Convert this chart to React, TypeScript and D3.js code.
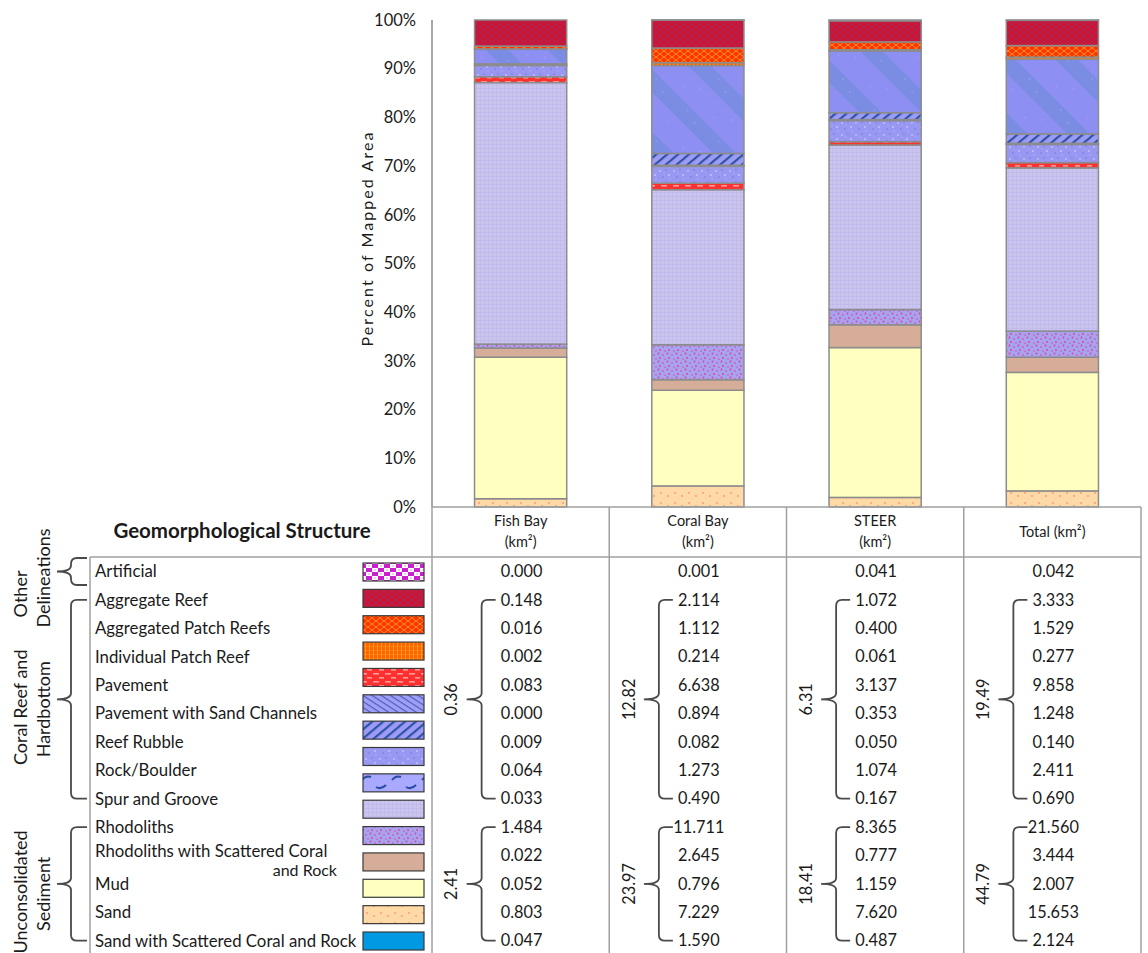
import React from "react";
import * as d3 from "d3";

// ---------------- DATA ----------------
const sites = ["Fish Bay", "Coral Bay", "STEER", "Total"];
const siteHeaderLines = [["Fish Bay", "(km²)"], ["Coral Bay", "(km²)"], ["STEER", "(km²)"], ["Total (km²)"]];

const structures = [
  "Artificial",
  "Aggregate Reef",
  "Aggregated Patch Reefs",
  "Individual Patch Reef",
  "Pavement",
  "Pavement with Sand Channels",
  "Reef Rubble",
  "Rock/Boulder",
  "Spur and Groove",
  "Rhodoliths",
  "Rhodoliths with Scattered Coral and Rock",
  "Mud",
  "Sand",
  "Sand with Scattered Coral and Rock",
];

const fishBay = [0.0, 0.148, 0.016, 0.002, 0.083, 0.0, 0.009, 0.064, 0.033, 1.484, 0.022, 0.052, 0.803, 0.047];
const coralBay = [0.001, 2.114, 1.112, 0.214, 6.638, 0.894, 0.082, 1.273, 0.49, 11.711, 2.645, 0.796, 7.229, 1.59];
const steer = [0.041, 1.072, 0.4, 0.061, 3.137, 0.353, 0.05, 1.074, 0.167, 8.365, 0.777, 1.159, 7.62, 0.487];
const total = [0.042, 3.333, 1.529, 0.277, 9.858, 1.248, 0.14, 2.411, 0.69, 21.56, 3.444, 2.007, 15.653, 2.124];

const groupNames = [["Other", "Delineations"], ["Coral Reef and", "Hardbottom"], ["Unconsolidated", "Sediment"]];
const groupFirst = [0, 1, 9];
const groupLast = [0, 8, 13];

// group subtotals (Coral Reef & Hardbottom, Unconsolidated Sediment)
const fishBayGroupTotals = [0.36, 2.41];
const coralBayGroupTotals = [12.82, 23.97];
const steerGroupTotals = [6.31, 18.41];
const totalGroupTotals = [19.49, 44.79];

const yTicks = [0, 0.1, 0.2, 0.3, 0.4, 0.5, 0.6, 0.7, 0.8, 0.9, 1.0];

// ---------------- STYLE ----------------
const siteValues = [fishBay, coralBay, steer, total];
const siteGroupTotals = [fishBayGroupTotals, coralBayGroupTotals, steerGroupTotals, totalGroupTotals];

// fill used for each structure inside the bars
const barFill = [
  "artificial", "aggReef", "aggPatch", "indiv", "broadDiag", "hatch", "speckle",
  "speckle", "pavement", "lavGrid", "rhod", "tan", "yellow", "sand",
];
// legend swatch column (15 swatches as in the source)
const swatchFill = [
  "artificial", "aggReef", "aggPatch", "indiv", "pavement", "thinDiag", "hatch", "speckle",
  "curves", "lavGrid", "rhod", "tan", "yellow", "sand", "blue",
];

const FONT = "Lato, 'Liberation Sans', Arial, sans-serif";
const TXT = "#1a1a1a";
const GRID = "#a0a0a0";

const W = 1148;
const H = 953;
const plotTop = 20;
const plotBottom = 507;
const tableLeft = 432;
const tableRight = 1141;
const legendLeft = 90;
const headerBottom = 557;

function Patterns() {
  return (
    <defs>
      <pattern id="artificial" width="12" height="8" patternUnits="userSpaceOnUse">
        <rect width="12" height="8" fill="#cc1fd0" />
        <rect x="0" y="0" width="6" height="4" fill="#ffffff" />
        <rect x="6" y="4" width="6" height="4" fill="#ffffff" />
        <rect x="2" y="1.5" width="2" height="1" fill="#e59ae8" />
        <rect x="8" y="5.5" width="2" height="1" fill="#e59ae8" />
      </pattern>
      <pattern id="aggReef" width="8" height="6" patternUnits="userSpaceOnUse">
        <rect width="8" height="6" fill="#d2122e" />
        <path d="M0,3 L4,0 L8,3 L4,6 Z" fill="none" stroke="#9a2d66" strokeWidth="0.9" />
      </pattern>
      <pattern id="aggPatch" width="8" height="6" patternUnits="userSpaceOnUse">
        <rect width="8" height="6" fill="#ff3300" />
        <path d="M0,3 L4,0 L8,3 L4,6 Z" fill="none" stroke="#ff9a1a" strokeWidth="0.9" />
      </pattern>
      <pattern id="indiv" width="4" height="4" patternUnits="userSpaceOnUse">
        <rect width="4" height="4" fill="#ff6200" />
        <rect x="1" y="0" width="1" height="4" fill="#ffa21a" />
        <rect x="0" y="2" width="4" height="0.8" fill="#ff8a10" />
      </pattern>
      <pattern id="pavement" width="12" height="8" patternUnits="userSpaceOnUse">
        <rect width="12" height="8" fill="#ff3030" />
        <rect x="1" y="1" width="6" height="1.6" fill="#ff9a9a" />
        <rect x="7" y="5" width="6" height="1.6" fill="#ff9a9a" />
      </pattern>
      <pattern id="thinDiag" width="5" height="5" patternUnits="userSpaceOnUse" patternTransform="rotate(33)">
        <rect width="5" height="5" fill="#a0a0f4" />
        <rect x="0" y="0" width="5" height="1.2" fill="#4a5ec0" />
      </pattern>
      <pattern id="hatch" width="7" height="7" patternUnits="userSpaceOnUse" patternTransform="rotate(-40)">
        <rect width="7" height="7" fill="#9c9cf4" />
        <rect x="0" y="0" width="7" height="2.2" fill="#2f52a8" />
      </pattern>
      <pattern id="speckle" width="14" height="12" patternUnits="userSpaceOnUse">
        <rect width="14" height="12" fill="#9898f2" />
        <circle cx="2" cy="3" r="1" fill="#bfbfff" />
        <circle cx="8" cy="2" r="0.8" fill="#7676d8" />
        <circle cx="11" cy="7" r="1.1" fill="#bfbfff" />
        <circle cx="5" cy="9" r="0.8" fill="#7676d8" />
        <circle cx="12" cy="11" r="0.7" fill="#b0b0ff" />
        <circle cx="6" cy="5" r="0.6" fill="#b6b6ff" />
      </pattern>
      <pattern id="curves" width="30" height="18" patternUnits="userSpaceOnUse">
        <rect width="30" height="18" fill="#a9a9ff" />
        <path d="M2,6 Q6,1 11,3" fill="none" stroke="#2a4aa6" strokeWidth="2" />
        <path d="M16,13 Q21,16 26,11" fill="none" stroke="#2a4aa6" strokeWidth="2" />
      </pattern>
      <pattern id="lavGrid" width="4" height="4" patternUnits="userSpaceOnUse">
        <rect width="4" height="4" fill="#c9c5ec" />
        <rect x="0" y="0" width="4" height="0.6" fill="#bcb6ee" />
        <rect x="0" y="0" width="0.6" height="4" fill="#bcb6ee" />
      </pattern>
      <pattern id="rhod" width="9" height="8" patternUnits="userSpaceOnUse">
        <rect width="9" height="8" fill="#a6a2f4" />
        <circle cx="1.5" cy="1.5" r="0.9" fill="#ea3f78" />
        <circle cx="6" cy="3" r="0.8" fill="#ea3f78" />
        <circle cx="3" cy="6" r="0.9" fill="#ea3f78" />
        <circle cx="8" cy="7" r="0.7" fill="#ea3f78" />
      </pattern>
      <pattern id="tan" width="4" height="4" patternUnits="userSpaceOnUse">
        <rect width="4" height="4" fill="#d6ad98" />
      </pattern>
      <pattern id="yellow" width="4" height="4" patternUnits="userSpaceOnUse">
        <rect width="4" height="4" fill="#ffffc0" />
      </pattern>
      <pattern id="sand" width="14" height="10" patternUnits="userSpaceOnUse">
        <rect width="14" height="10" fill="#ffdaa6" />
        <circle cx="3" cy="3" r="0.9" fill="#ff9474" />
        <circle cx="10" cy="6" r="0.9" fill="#ff9474" />
        <circle cx="6" cy="8" r="0.6" fill="#ffb890" />
      </pattern>
      <pattern id="blue" width="4" height="4" patternUnits="userSpaceOnUse">
        <rect width="4" height="4" fill="#0099e2" />
      </pattern>
      <pattern id="broadDiag" width="44" height="44" patternUnits="userSpaceOnUse" patternTransform="rotate(-45)">
        <rect width="44" height="44" fill="#8e8ff2" />
        <rect x="0" y="0" width="16" height="44" fill="#7a8de2" />
        <circle cx="8" cy="6" r="0.8" fill="#a2a4f8" />
        <circle cx="26" cy="16" r="0.8" fill="#a2a4f8" />
        <circle cx="36" cy="30" r="0.8" fill="#a2a4f8" />
        <circle cx="12" cy="36" r="0.8" fill="#a2a4f8" />
      </pattern>
    </defs>
  );
}

function bracePath(vx: number, hx: number, tx: number, top: number, bot: number, mid: number) {
  const r = Math.min(6, (bot - top) / 4);
  return [
    `M${hx},${top}`,
    `L${vx + r},${top}`,
    `Q${vx},${top} ${vx},${top + r}`,
    `L${vx},${mid - r}`,
    `Q${vx},${mid} ${tx},${mid}`,
    `Q${vx},${mid} ${vx},${mid + r}`,
    `L${vx},${bot - r}`,
    `Q${vx},${bot} ${vx + r},${bot}`,
    `L${hx},${bot}`,
  ].join(" ");
}

export default function App() {
  const y = d3.scaleLinear().domain([0, 1]).range([plotBottom, plotTop]);
  const x = d3.scaleBand<string>().domain(sites).range([tableLeft, tableRight]).paddingInner(0.48).paddingOuter(0.24);
  const col = d3.scaleBand<string>().domain(sites).range([tableLeft, tableRight]);
  const rowY = d3.scaleLinear().domain([0, structures.length - 1]).range([571.5, 940.7]);
  const swatchY = d3.scaleLinear().domain([0, swatchFill.length - 1]).range([563, 932]);
  const fmt = d3.format(".3f");
  const pct = d3.format(".0%");

  const rows = sites.map((s, i) => {
    const vals = siteValues[i];
    const sum = d3.sum(vals);
    const o: any = { site: s };
    vals.forEach((v, k) => (o[k] = v / sum));
    return o;
  });
  const keys = structures.map((_, k) => k).reverse(); // bottom = last structure
  const stacked = d3.stack<any, number>().keys(keys)(rows);

  const legendLabelX = 95;
  const swX = 363;
  const swW = 61;
  const swH = 18;
  const labelSize = 16.8;

  return (
    <svg width={W} height={H} style={{ position: "absolute", left: 0, top: 0, background: "#fff" }} fontFamily={FONT}>
      <Patterns />
      {/* Y axis */}
      <line x1={tableLeft} x2={tableLeft} y1={plotTop} y2={plotBottom} stroke="#8a8a8a" strokeWidth={1.5} />
      {yTicks.map((t) => (
        <text key={t} x={416} y={y(t)} dy="0.35em" textAnchor="end" fontSize={16.5} fill={TXT}>
          {pct(t)}
        </text>
      ))}
      <text
        transform={`translate(367,${(plotTop + plotBottom) / 2 - 24}) rotate(-90)`}
        textAnchor="middle"
        dy="0.35em"
        fontSize={16}
        textLength={214}
        lengthAdjust="spacing"
        fill={TXT}
      >
        Percent of Mapped Area
      </text>

      {/* Bars */}
      {stacked.map((layer) =>
        layer.map((d, j) => {
          const site = sites[j];
          const h = y(d[0]) - y(d[1]);
          return (
            <rect
              key={`${layer.key}-${j}`}
              x={x(site)}
              y={y(d[1])}
              width={x.bandwidth()}
              height={Math.max(0, h)}
              fill={`url(#${barFill[layer.key as number]})`}
              stroke="#8c8c8c"
              strokeWidth={1.5}
            />
          );
        })
      )}

      {/* Table grid */}
      <line x1={tableLeft} x2={tableRight} y1={plotBottom} y2={plotBottom} stroke={GRID} strokeWidth={1.5} />
      <line x1={legendLeft} x2={tableRight} y1={headerBottom} y2={headerBottom} stroke={GRID} strokeWidth={1.5} />
      <line x1={legendLeft} x2={legendLeft} y1={headerBottom} y2={H} stroke={GRID} strokeWidth={1.5} />
      {sites.map((s) => (
        <line key={s} x1={col(s)} x2={col(s)} y1={plotBottom} y2={H} stroke={GRID} strokeWidth={1.5} />
      ))}
      <line x1={tableRight} x2={tableRight} y1={plotBottom} y2={H} stroke={GRID} strokeWidth={1.5} />

      {/* Header */}
      <text x={242} y={531} dy="0.35em" textAnchor="middle" fontSize={20.5} fontWeight="bold" fill={TXT}>
        Geomorphological Structure
      </text>
      {sites.map((s, i) => {
        const lines = siteHeaderLines[i];
        const cx = col(s)! + col.bandwidth() / 2;
        const y0 = lines.length === 1 ? 532 : 521;
        return lines.map((ln, k) => (
          <text key={`${s}-${k}`} x={cx} y={y0 + k * 21} dy="0.35em" textAnchor="middle" fontSize={14.5} fill={TXT}>
            {ln}
          </text>
        ));
      })}

      {/* Legend labels */}
      {structures.map((s, i) => {
        if (s === "Rhodoliths with Scattered Coral and Rock") {
          return (
            <g key={s}>
              <text x={legendLabelX} y={rowY(i) - 4} dy="0.35em" fontSize={labelSize} fill={TXT}>
                Rhodoliths with Scattered Coral
              </text>
              <text x={337} y={rowY(i) + 15} dy="0.35em" textAnchor="end" fontSize={labelSize - 0.8} fill={TXT}>
                and Rock
              </text>
            </g>
          );
        }
        return (
          <text key={s} x={legendLabelX} y={rowY(i)} dy="0.35em" fontSize={labelSize} fill={TXT}>
            {s}
          </text>
        );
      })}
      {swatchFill.map((f, i) => (
        <rect key={i} x={swX} y={swatchY(i)} width={swW} height={swH} fill={`url(#${f})`} stroke="#3a3a3a" strokeWidth={1.2} />
      ))}

      {/* Legend group braces and labels */}
      {groupNames.map((g, gi) => {
        const single = groupFirst[gi] === groupLast[gi];
        const top = single ? rowY(groupFirst[gi]) - 13.5 : rowY(groupFirst[gi]);
        const bot = single ? rowY(groupLast[gi]) + 13.5 : rowY(groupLast[gi]);
        const mid = (top + bot) / 2;
        const labelCenters = gi === 0 ? [594, 578] : [mid + 8, mid + 10];
        return (
          <g key={gi}>
            <path d={bracePath(71, 87, 57, top, bot, mid)} fill="none" stroke="#4a4a4a" strokeWidth={1.8} />
            {g.map((ln, k) => (
              <text
                key={k}
                transform={`translate(${k === 0 ? 21 : 44},${labelCenters[k]}) rotate(-90)`}
                textAnchor="middle"
                dy="0.35em"
                fontSize={18}
                fill={TXT}
              >
                {ln}
              </text>
            ))}
          </g>
        );
      })}

      {/* Values */}
      {sites.map((s, si) => {
        const cx = col(s)! + col.bandwidth() / 2 + 1;
        const vals = siteValues[si];
        return (
          <g key={s}>
            {vals.map((v, i) => (
              <text key={i} x={cx} y={rowY(i)} dy="0.35em" textAnchor="middle" fontSize={16.3} fill={TXT}>
                {fmt(v)}
              </text>
            ))}
            {[1, 2].map((gi) => {
              const top = rowY(groupFirst[gi]);
              const bot = rowY(groupLast[gi]);
              const mid = (top + bot) / 2;
              return (
                <g key={gi}>
                  <path d={bracePath(cx - 40, cx - 26, cx - 55, top, bot, mid)} fill="none" stroke="#4a4a4a" strokeWidth={1.8} />
                  <text
                    transform={`translate(${cx - 70},${mid}) rotate(-90)`}
                    textAnchor="middle"
                    dy="0.35em"
                    fontSize={16.3}
                    fill={TXT}
                  >
                    {siteGroupTotals[si][gi - 1].toFixed(2)}
                  </text>
                </g>
              );
            })}
          </g>
        );
      })}
    </svg>
  );
}
